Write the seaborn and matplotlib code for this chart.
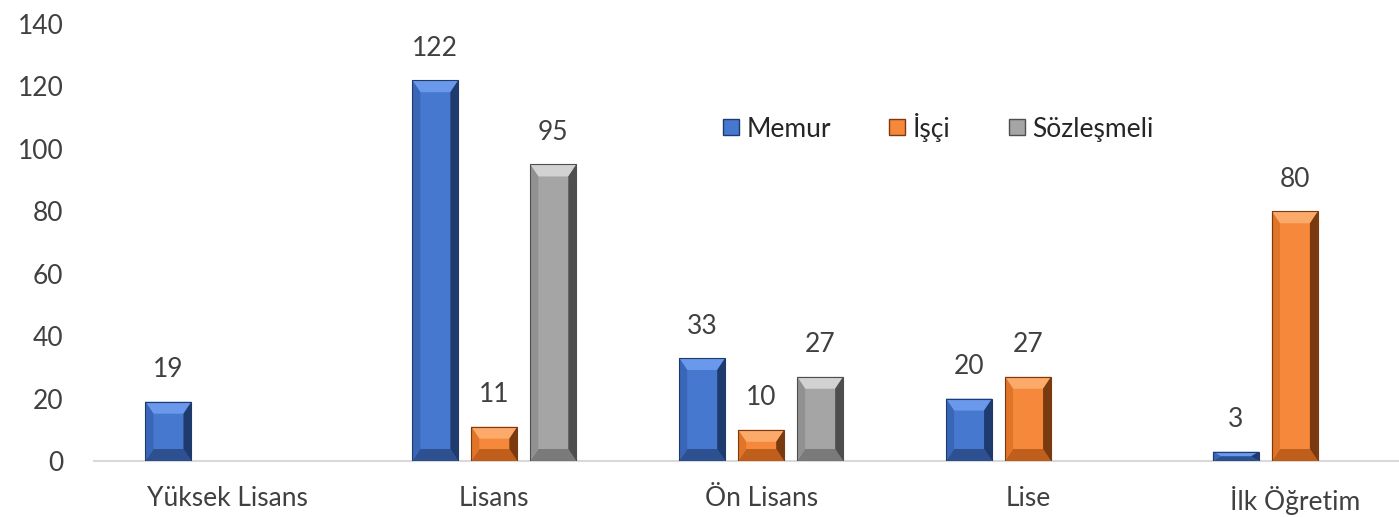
import numpy as np
import pandas as pd
import matplotlib
matplotlib.use("Agg")
import matplotlib.pyplot as plt
from matplotlib.patches import Polygon, Rectangle
from matplotlib.lines import Line2D
import seaborn as sns

categories = ["Yüksek Lisans", "Lisans", "Ön Lisans", "Lise", "İlk Öğretim"]
series = ["Memur", "İşçi", "Sözleşmeli"]
memur = [19, 122, 33, 20, 3]
isci = [np.nan, 11, 10, 27, 80]
sozlesmeli = [np.nan, 95, 27, np.nan, np.nan]
y_ticks = [0, 20, 40, 60, 80, 100, 120, 140]

rows = []
for name, vals in zip(series, [memur, isci, sozlesmeli]):
    for c, v in zip(categories, vals):
        if not np.isnan(v):
            rows.append({"Kategori": c, "Seri": name, "Değer": v})
df = pd.DataFrame(rows)

sns.set_theme(style="white")
plt.rcParams["font.family"] = ["Lato", "DejaVu Sans"]

# colour sets: (face, top, left, right, bottom)
shades = {
    "Memur": ("#4678D0", "#6A98EA", "#3A66B8", "#1F3B6E", "#2D5090"),
    "İşçi": ("#F5883A", "#FBAA6A", "#E07428", "#7A3A10", "#C05E1C"),
    "Sözleşmeli": ("#A5A5A5", "#D2D2D2", "#919191", "#4E4E4E", "#7A7A7A"),
}
palette = {k: v[0] for k, v in shades.items()}

W, H = 1399, 517
fig = plt.figure(figsize=(W / 100, H / 100), dpi=100)
ax_left, ax_right = 94 / W, 1.0
ax_bottom, ax_top = 1 - 461 / H, 1 - 24 / H
ax = fig.add_axes([ax_left, ax_bottom, ax_right - ax_left, ax_top - ax_bottom])

sns.barplot(data=df, x="Kategori", y="Değer", hue="Seri", order=categories,
            hue_order=series, palette=palette, width=0.663, gap=0.22,
            dodge=True, ax=ax, legend=False, saturation=1, edgecolor="none")

xmin, xmax = -0.5, 4.39
ax.set_xlim(xmin, xmax)
ax.set_ylim(0, 140)
ax.set_yticks(y_ticks)

# bevel decoration derived from drawn patches
ax_w_px = (ax_right - ax_left) * W
ax_h_px = (ax_top - ax_bottom) * H
ux = (xmax - xmin) / ax_w_px
uy = 140 / ax_h_px
for cont, name in zip(ax.containers, series):
    face, top, left, right, bottom = shades[name]
    for p in cont.patches:
        h = p.get_height()
        if not np.isfinite(h) or h <= 0:
            continue
        x0 = p.get_x(); w = p.get_width(); x1 = x0 + w
        bx = 8 * ux
        by = min(12 * uy, h / 2)
        bxs = min(bx, w / 2)
        ax.add_patch(Polygon([(x0, h), (x1, h), (x1 - bxs, h - by), (x0 + bxs, h - by)],
                             closed=True, facecolor=top, edgecolor="none", zorder=3))
        ax.add_patch(Polygon([(x0, 0), (x1, 0), (x1 - bxs, by), (x0 + bxs, by)],
                             closed=True, facecolor=bottom, edgecolor="none", zorder=3))
        ax.add_patch(Polygon([(x0, 0), (x0 + bxs, by), (x0 + bxs, h - by), (x0, h)],
                             closed=True, facecolor=left, edgecolor="none", zorder=3))
        ax.add_patch(Polygon([(x1, 0), (x1 - bxs, by), (x1 - bxs, h - by), (x1, h)],
                             closed=True, facecolor=right, edgecolor="none", zorder=3))
        ax.add_patch(Rectangle((x0, 0), w, h, facecolor="none", edgecolor=right,
                               linewidth=0.8, zorder=4))
    labels = [("" if (not np.isfinite(v) or v <= 0) else f"{int(v)}") for v in cont.datavalues]
    ax.bar_label(cont, labels=labels, padding=14, fontsize=19, color="#404040")

for s in ["top", "right", "left"]:
    ax.spines[s].set_visible(False)
ax.spines["bottom"].set_color("#D9D9D9")
ax.spines["bottom"].set_linewidth(1.5)
ax.tick_params(axis="both", length=0, labelsize=19, colors="#404040")
ax.tick_params(axis="y", pad=22)
ax.tick_params(axis="x", pad=18)
ax.set_xlabel("")
ax.set_ylabel("")

handles = [Line2D([0], [0], marker="s", linestyle="none", markersize=12,
                  markerfacecolor=shades[n][0], markeredgecolor=shades[n][3])
           for n in series]
ax.legend(handles, series, loc="center", bbox_to_anchor=(0.646, 0.764), ncol=3,
          frameon=False, fontsize=19, handletextpad=0.2, columnspacing=2.1,
          labelcolor="#262626", handlelength=0.8)

fig.savefig("out.png", dpi=100)
